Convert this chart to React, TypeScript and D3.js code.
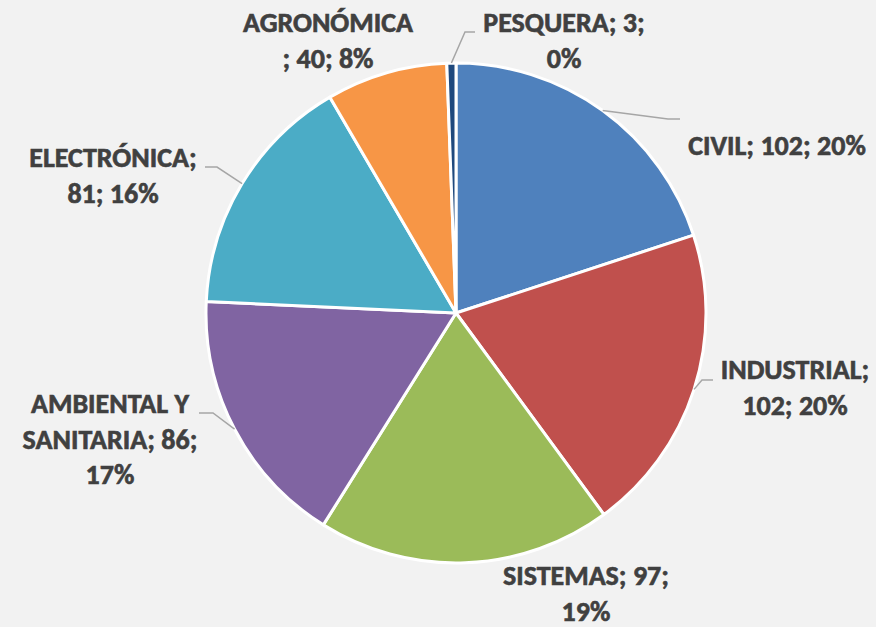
import * as d3 from "d3";
import React, { useRef, useEffect } from "react";

const categories = ["CIVIL", "INDUSTRIAL", "SISTEMAS", "AMBIENTAL Y SANITARIA", "ELECTRÓNICA", "AGRONÓMICA", "PESQUERA"];
const counts = [102, 102, 97, 86, 81, 40, 3];
const percents = ["20%", "20%", "19%", "17%", "16%", "8%", "0%"];
const colors = ["#4F81BD", "#C0504D", "#9BBB59", "#8064A2", "#4BACC6", "#F79646", "#1F497D"];

// label text split into lines as in the original chart
const labelLines = [
  ["CIVIL; 102; 20%"],
  ["INDUSTRIAL;", "102; 20%"],
  ["SISTEMAS; 97;", "19%"],
  ["AMBIENTAL Y", "SANITARIA; 86;", "17%"],
  ["ELECTRÓNICA;", "81; 16%"],
  ["AGRONÓMICA", "; 40; 8%"],
  ["PESQUERA; 3;", "0%"],
];

// label layout: text center x, first baseline y, leader elbow and end (null = no leader)
const labelLayout = [
  { x: 777, y: 155, elbow: [668, 119], end: [680, 119] },
  { x: 795, y: 379, elbow: [702, 380], end: [713, 380] },
  { x: 586, y: 585, elbow: null, end: null },
  { x: 110, y: 413, elbow: [213, 413], end: [199, 413] },
  { x: 113, y: 167, elbow: [217, 167], end: [205, 167] },
  { x: 328, y: 32, elbow: null, end: null },
  { x: 564, y: 32, elbow: [465, 32], end: [475, 32] },
];

const W = 876;
const H = 627;

const PieChart = () => {
  const ref = useRef(null);

  useEffect(() => {
    const svg = d3.select(ref.current);
    svg.selectAll("*").remove();

    const cx = 456, cy = 313, r = 250;
    const data = categories.map((c, i) => ({ name: c, value: counts[i], i }));

    const pie = d3.pie().value((d) => d.value).sort(null);
    const arcs = pie(data);
    const arc = d3.arc().innerRadius(0).outerRadius(r);
    const edge = d3.arc().innerRadius(r).outerRadius(r);

    svg.append("rect").attr("width", W).attr("height", H).attr("fill", "#F2F2F2");

    const g = svg.append("g").attr("transform", `translate(${cx},${cy})`);
    g.selectAll("path.slice")
      .data(arcs)
      .enter()
      .append("path")
      .attr("class", "slice")
      .attr("d", arc)
      .attr("fill", (d) => colors[d.data.i])
      .attr("stroke", "#fff")
      .attr("stroke-width", 3)
      .attr("stroke-linejoin", "round");

    // leader lines
    arcs.forEach((d) => {
      const lay = labelLayout[d.data.i];
      if (!lay.elbow) return;
      const [sx, sy] = edge.centroid(d);
      const pts = [[sx + cx, sy + cy], lay.elbow, lay.end];
      svg.append("path")
        .attr("d", d3.line()(pts))
        .attr("fill", "none")
        .attr("stroke", "#A6A6A6")
        .attr("stroke-width", 1.5);
    });

    // labels
    labelLines.forEach((lines, i) => {
      const lay = labelLayout[i];
      const t = svg.append("text")
        .attr("text-anchor", "middle")
        .attr("font-family", "Carlito, Calibri, Lato, sans-serif")
        .attr("font-weight", "bold")
        .attr("font-size", 28)
        .attr("fill", "#404040")
        .attr("stroke", "#404040")
        .attr("stroke-width", 0.6);
      lines.forEach((ln, k) => {
        t.append("tspan").attr("x", lay.x).attr("y", lay.y + k * 35.5).text(ln);
      });
    });
  }, []);

  return (
    <svg
      ref={ref}
      width={W}
      height={H}
      style={{ display: "block", position: "fixed", top: 0, left: 0 }}
    />
  );
};

export default function App() {
  return <PieChart />;
}
